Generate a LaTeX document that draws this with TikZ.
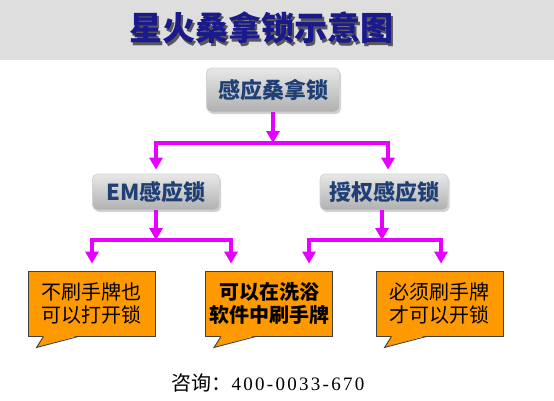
\documentclass[tikz,border=0pt]{standalone}
\usepackage{fontspec}
\setmainfont{Liberation Serif}
\newfontfamily\cjk{Noto Sans CJK SC}
\newfontfamily\numfont[LetterSpace=12]{Liberation Serif}
\usetikzlibrary{shadows,arrows.meta,calc}
\definecolor{mag}{HTML}{E600FF}
\definecolor{orng}{HTML}{FF9900}
\definecolor{titleblue}{HTML}{1A1A8C}
\definecolor{nodeblue}{HTML}{1F3F75}
\definecolor{band}{HTML}{DEDEDE}
\definecolor{calloutline}{HTML}{404040}
\newcommand{\shadowtext}[1]{\rlap{\kern2.5pt\raisebox{-2.5pt}{\textcolor{gray!70!black}{#1}}}\textcolor{titleblue}{#1}}
\begin{document}
\begin{tikzpicture}[x=1pt,y=-1pt,
  btn/.style={rounded corners=5pt, draw=gray!35, line width=0.8pt,
    top color=gray!18, bottom color=gray!62,
    drop shadow={shadow xshift=1.5pt, shadow yshift=-2pt, opacity=0.35},
    text=nodeblue, font=\cjk\bfseries\fontsize{22pt}{24pt}\selectfont,
    inner sep=0pt},
  arr/.style={draw=mag, line width=3.5pt, -{Triangle[width=13pt,length=12pt]}},
  bubble/.style={rectangle, fill=orng, draw=calloutline, line width=0.9pt,
    minimum width=127pt, minimum height=65pt, inner sep=0pt, align=center,
    font=\cjk\fontsize{20pt}{23pt}\selectfont},
  tailline/.style={draw=calloutline, line width=0.9pt, line join=miter}
]
\useasboundingbox (0,0) rectangle (554,400);
\fill[band] (0,0) rectangle (554,60);
% title
\node[font=\cjk\bfseries\fontsize{33pt}{36pt}\selectfont] (title) at (261,29) {\shadowtext{星火桑拿锁示意图}};

% buttons
\node[btn, minimum width=133pt, minimum height=44pt] (top) at (273,90) {感应桑拿锁};
\node[btn, minimum width=127pt, minimum height=36pt] (em) at (156,192) {EM感应锁};
\node[btn, minimum width=128pt, minimum height=36pt] (auth) at (384,192) {授权感应锁};

% callouts
\node[bubble] (c1) at (91.5,303.5) {不刷手牌也\\可以打开锁};
\node[bubble, font=\cjk\bfseries\fontsize{20pt}{23pt}\selectfont] (c2) at (269,303.5) {可以在洗浴\\软件中刷手牌};
\node[bubble] (c3) at (439.5,303.5) {必须刷手牌\\才可以开锁};
\foreach \c in {c1,c2,c3}{
  \fill[orng] ($(\c.south west)+(16,-1)$) -- ($(\c.south west)+(9,11)$) -- ($(\c.south west)+(51,-1)$) -- cycle;
  \draw[tailline] ($(\c.south west)+(16,0)$) -- ($(\c.south west)+(9,11)$) -- ($(\c.south west)+(51,0)$);
}

% junction coordinates
\coordinate (j1) at (273,143);
\coordinate (j2) at (0,240);
\coordinate (em1) at (92,240);
\coordinate (em2) at (231,240);
\coordinate (au1) at (309,240);
\coordinate (au2) at (441,240);

% level 1 connectors
\draw[arr] (top.south) -- (top.south |- j1);
\draw[arr, shorten >=4pt] (auth.north |- j1) -- (em.north |- j1) -- (em.north);
\draw[arr, shorten >=4pt] (em.north |- j1) -- ([xshift=4pt]auth.north |- j1) -- ([xshift=4pt]auth.north);

% level 2 connectors
\draw[arr] (em.south) -- (em.south |- j2);
\draw[arr] (auth.south) ++(-2,0) coordinate (aus) -- (aus |- j2);
\draw[arr, shorten >=7pt] (em2) -- (em1) -- (em1 |- c1.north);
\draw[arr, shorten >=7pt] (em1) -- (em2) -- (em2 |- c2.north);
\draw[arr, shorten >=7pt] (au2) -- (au1) -- (au1 |- c2.north);
\draw[arr, shorten >=7pt] (au1) -- (au2) -- (au2 |- c3.north);

% contact
\node (contact) at (268,383) {{\cjk\fontsize{20pt}{22pt}\selectfont 咨询：}{\numfont\fontsize{19pt}{22pt}\selectfont 400-0033-670}};
\end{tikzpicture}
\end{document}
